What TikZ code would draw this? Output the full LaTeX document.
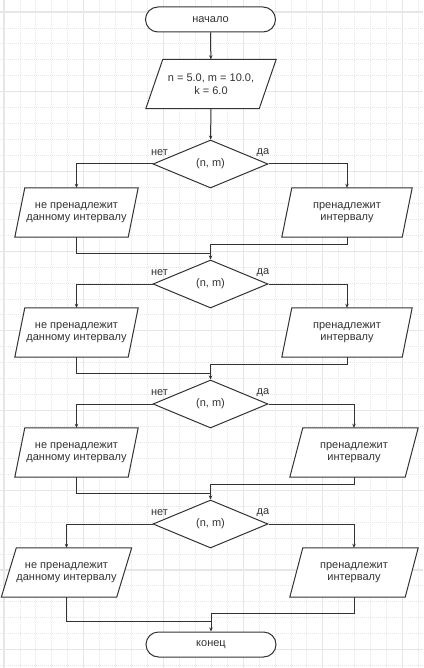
\documentclass[tikz,border=0pt]{standalone}
\usepackage{fontspec}
\setmainfont{Liberation Sans}
\usetikzlibrary{calc, positioning, shapes.geometric, shapes.misc, arrows.meta, backgrounds}

\definecolor{linec}{HTML}{333333}
\definecolor{textc}{HTML}{333333}
\definecolor{gridc}{HTML}{E6E6E6}

\tikzset{
    box/.style={draw=linec, line width=1pt, text=textc, fill=white,
        font=\fontsize{11}{12.5}\selectfont, align=center},
    term/.style={box, rounded rectangle, minimum width=130pt,
        minimum height=25pt, inner sep=0pt},
    io/.style={text=textc, font=\fontsize{11}{12.5}\selectfont, align=center,
        minimum width=113pt, minimum height=49pt, inner sep=0pt},
    cond/.style={box, diamond, minimum width=115pt,
        minimum height=48pt, inner sep=0pt},
    lbl/.style={text=textc, font=\fontsize{11}{12.5}\selectfont, inner sep=0pt},
    line/.style={draw=linec, line width=1pt},
    arrow/.style={line, -{Stealth[length=4pt, width=3.5pt]}},
}

\begin{document}
\begin{tikzpicture}[x=1pt, y=-1pt]

    \useasboundingbox (0,0) rectangle (423,668);

    % grid
    \begin{scope}[on background layer]
    \foreach \i in {0,...,26}
        \draw[gridc, line width=0.8pt, dash pattern=on 1pt off 1pt] ({4+15.94*\i},0) -- ({4+15.94*\i},668);
    \foreach \i in {0,...,42}
        \draw[gridc, line width=0.8pt, dash pattern=on 1pt off 1pt] (0,{-3.94+15.94*\i}) -- (423,{-3.94+15.94*\i});
    \foreach \i in {0,...,5}
        \draw[gridc, line width=1.2pt] ({4+79.7*\i},0) -- ({4+79.7*\i},668);
    \foreach \i in {0,...,8}
        \draw[gridc, line width=1.2pt] (0,{12+79.7*\i}) -- (423,{12+79.7*\i});
    \end{scope}

    \node[term] (start) at (210.5,19.5) {начало};
    \node[io] (inp) at (211,84) {n = 5.0, m = 10.0,\\k = 6.0};

    \node[cond] (d1) at (210.5,164) {(n, m)};
    \node[cond] (d2) at (210.5,284) {(n, m)};
    \node[cond] (d3) at (210.5,404) {(n, m)};
    \node[cond] (d4) at (210.5,524) {(n, m)};

    \node[io] (L1) at (76.5,212.5) {не пренадлежит\\данному интервалу};
    \node[io, minimum width=120pt] (R1) at (347,212.5) {пренадлежит\\интервалу};
    \node[io] (L2) at (76.5,332.5) {не пренадлежит\\данному интервалу};
    \node[io, minimum width=120pt] (R2) at (347,332.5) {пренадлежит\\интервалу};
    \node[io] (L3) at (76.5,452.5) {не пренадлежит\\данному интервалу};
    \node[io, minimum width=115pt] (R3) at (354,452.5) {пренадлежит\\интервалу};
    \node[io, minimum width=115pt] (L4) at (66.5,572.5) {не пренадлежит\\данному интервалу};
    \node[io, minimum width=115pt] (R4) at (354,572.5) {пренадлежит\\интервалу};

    \node[term] (stop) at (211,644.5) {конец};

    % parallelograms
    \begin{scope}[on background layer]
    \foreach \n/\s in {inp/17, L1/10, R1/10, L2/10, R2/10, L3/10, R3/13, L4/15, R4/13}
        \draw[line, fill=white] ($(\n.north west)+(\s/2,0)$) -- ($(\n.north east)+(\s/2,0)$)
            -- ($(\n.south east)+(-\s/2,0)$) -- ($(\n.south west)+(-\s/2,0)$) -- cycle;
    \end{scope}

    % labels
    \node[lbl] (no1) at ($(d1.west)+(7,-11)$) {нет};
    \node[lbl] (yes1) at ($(d1.east)+(-5.5,-11)$) {да};
    \node[lbl] (no2) at ($(d2.west)+(7,-11)$) {нет};
    \node[lbl] (yes2) at ($(d2.east)+(-5.5,-11)$) {да};
    \node[lbl] (no3) at ($(d3.west)+(7,-11)$) {нет};
    \node[lbl] (yes3) at ($(d3.east)+(-5.5,-11)$) {да};
    \node[lbl] (no4) at ($(d4.west)+(7,-11)$) {нет};
    \node[lbl] (yes4) at ($(d4.east)+(-5.5,-11)$) {да};

    % joints
    \coordinate (j1) at (210.5,244);
    \coordinate (k1) at (210.5,253);
    \coordinate (j2) at (210.5,364);
    \coordinate (k2) at (210.5,373);
    \coordinate (j3) at (210.5,484);
    \coordinate (k3) at (210.5,493);
    \coordinate (j4) at (211,613);
    \coordinate (k4) at (211,621);

    \draw[arrow] (start) -- (inp);
    \draw[arrow] (inp) -- (d1);

    \draw[arrow] (d1.west) -| (L1.north);
    \draw[arrow] (d1.east) -| (R1.north);
    \draw[line] (L1.south) |- (k1);
    \draw[arrow] (R1.south) |- (j1) -- (d2.north);

    \draw[arrow] (d2.west) -| (L2.north);
    \draw[arrow] (d2.east) -| (R2.north);
    \draw[line] (L2.south) |- (k2);
    \draw[arrow] (R2.south) |- (j2) -- (d3.north);

    \draw[arrow] (d3.west) -| (L3.north);
    \draw[arrow] (d3.east) -| (R3.north);
    \draw[line] (L3.south) |- (k3);
    \draw[arrow] (R3.south) |- (j3) -- (d4.north);

    \draw[arrow] (d4.west) -| (L4.north);
    \draw[arrow] (d4.east) -| (R4.north);
    \draw[line] (L4.south) |- (k4);
    \draw[arrow] (R4.south) |- (j4) -- (stop.north);

\end{tikzpicture}
\end{document}
